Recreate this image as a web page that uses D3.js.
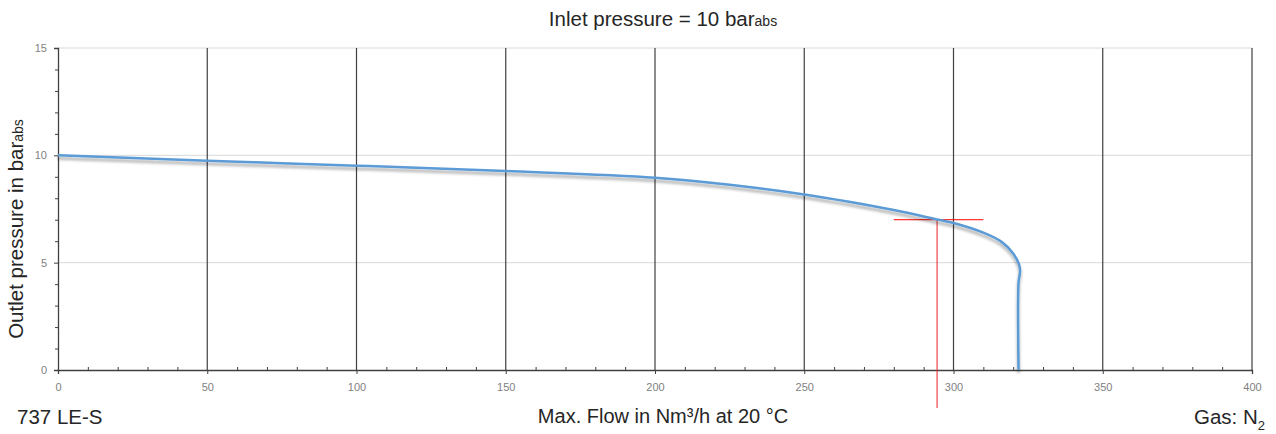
<!DOCTYPE html>
<html><head><meta charset="utf-8">
<script src="https://cdn.jsdelivr.net/npm/d3@7"></script>
<style>body{margin:0;background:#fff}svg{display:block}text{font-family:"Liberation Sans",Arial,sans-serif}</style>
</head><body><svg id="c" width="1276" height="434"></svg>
<script>
const flow = [0, 50, 100, 150, 200, 225, 250, 265, 280, 295, 300, 310, 316, 320, 322, 322.3, 321.8, 321.8];
const pressure = [10, 9.75, 9.52, 9.27, 8.96, 8.63, 8.18, 7.84, 7.45, 7.0, 6.85, 6.4, 5.98, 5.43, 4.9, 4.6, 4.1, 0];
const xTicks = [0, 50, 100, 150, 200, 250, 300, 350, 400];
const yTicks = [0, 5, 10, 15];
const opPoint = {flow: 294.5, pressure: 7.0, from: 280, to: 310};

const svg = d3.select("#c");
const x = d3.scaleLinear().domain([0, 400]).range([58, 1252]);
const y = d3.scaleLinear().domain([0, 15]).range([370, 48]);

const defs = svg.append("defs");
const f = defs.append("filter").attr("id","sh").attr("x","-5%").attr("y","-5%").attr("width","110%").attr("height","120%");
f.append("feGaussianBlur").attr("in","SourceAlpha").attr("stdDeviation",1.5).attr("result","b");
f.append("feOffset").attr("in","b").attr("dy",2.5).attr("result","o");
f.append("feComponentTransfer").attr("in","o").attr("result","o2").append("feFuncA").attr("type","linear").attr("slope",0.35);
const m = f.append("feMerge"); m.append("feMergeNode").attr("in","o2"); m.append("feMergeNode").attr("in","SourceGraphic");

// horizontal grid
svg.append("g").selectAll("line").data(yTicks.filter(d=>d>0)).join("line")
  .attr("x1", x(0)).attr("x2", x(400)).attr("y1", d=>y(d)).attr("y2", d=>y(d))
  .attr("stroke", "#d9d9d9").attr("stroke-width", 1);
// vertical grid
svg.append("g").selectAll("line").data(xTicks.filter(d=>d>0)).join("line")
  .attr("x1", d=>x(d)).attr("x2", d=>x(d)).attr("y1", y(15)).attr("y2", y(0))
  .attr("stroke", "#404040").attr("stroke-width", 1.2);

// x axis
svg.append("g").attr("transform", `translate(0,${y(0)})`)
  .call(d3.axisBottom(x).tickValues(xTicks).tickSize(4).tickPadding(9));
svg.append("g").attr("transform", `translate(0,${y(0)})`)
  .call(d3.axisTop(x).tickValues(d3.range(10, 400, 10).filter(d=>d%50)).tickSize(3).tickFormat(""))
  .call(g=>g.select(".domain").remove());
// y axis
svg.append("g").attr("transform", `translate(${x(0)},0)`)
  .call(d3.axisLeft(y).tickValues(yTicks).tickSize(4).tickPadding(7));
svg.append("g").attr("transform", `translate(${x(0)},0)`)
  .call(d3.axisLeft(y).tickValues(d3.range(1, 15).filter(d=>d%5)).tickSize(3).tickFormat(""))
  .call(g=>g.select(".domain").remove());
svg.selectAll(".domain").attr("stroke", "#404040").attr("stroke-width", 1.3);
svg.selectAll(".tick line").attr("stroke", "#404040");
svg.selectAll(".tick text").attr("fill", "#7f7f7f").style("font-size", "11px");

// operating point cross
svg.append("line").attr("x1", x(opPoint.from)).attr("x2", x(opPoint.to))
  .attr("y1", y(opPoint.pressure)).attr("y2", y(opPoint.pressure)).attr("stroke", "#ff0000").attr("stroke-width", 1);
svg.append("line").attr("x1", x(opPoint.flow)).attr("x2", x(opPoint.flow))
  .attr("y1", y(opPoint.pressure)).attr("y2", 408).attr("stroke", "#e82020").attr("stroke-width", 1);

// curve
const data = flow.map((d,i)=>({f:d, p:pressure[i]}));
svg.append("path").datum(data)
  .attr("d", d3.line().x(d=>x(d.f)).y(d=>y(d.p)).curve(d3.curveCatmullRom.alpha(0.5)))
  .attr("fill", "none").attr("stroke", "#5b9bd5").attr("stroke-width", 2.5).attr("filter", "url(#sh)");

// texts
const t = svg.append("text").attr("x", 663).attr("y", 26).attr("text-anchor", "middle").attr("fill", "#262626").style("font-size", "20.5px");
t.append("tspan").text("Inlet pressure = 10 bar");
t.append("tspan").text("abs").style("font-size", "14px");

const yt = svg.append("text").attr("transform", "translate(23,229) rotate(-90)").attr("text-anchor", "middle").attr("fill", "#262626").style("font-size", "20.5px");
yt.append("tspan").text("Outlet pressure in bar");
yt.append("tspan").text("abs").style("font-size", "14px");

svg.append("text").attr("x", 663).attr("y", 423).attr("text-anchor", "middle").attr("fill", "#262626").style("font-size", "20px")
  .text("Max. Flow in Nm³/h at 20 °C");

svg.append("text").attr("x", 17).attr("y", 424).attr("fill", "#262626").style("font-size", "20.5px").text("737 LE-S");
const gt = svg.append("text").attr("x", 1265).attr("y", 424).attr("text-anchor", "end").attr("fill", "#262626").style("font-size", "20.5px");
gt.append("tspan").text("Gas: N");
gt.append("tspan").text("2").attr("dy", 6).style("font-size", "13px");
</script></body></html>
